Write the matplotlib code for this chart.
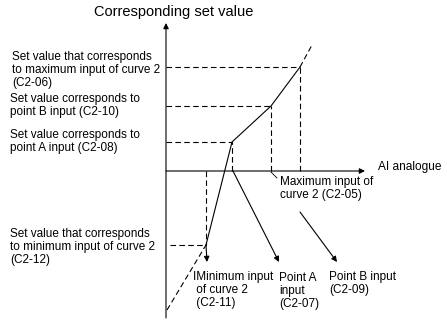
import matplotlib.pyplot as plt

plt.rcParams['font.family'] = ['Liberation Sans', 'DejaVu Sans']

# curve 2 break points: minimum input, point A, point B, maximum input
ai_inputs = [40, 66, 105, 134]
set_values = [-74, 29, 65, 104]

# dashed continuation of the curve outside the min/max inputs
low_ext_input = [1, 40]
low_ext_value = [-139, -74]
high_ext_input = [134, 146]
high_ext_value = [104, 126]

fig = plt.figure(figsize=(4.47, 3.21), dpi=100)
ax = fig.add_axes([0, 0, 1, 1])
ax.set_xlim(-166, 281)
ax.set_ylim(-150, 171)
ax.axis('off')

arrow = dict(arrowstyle='-|>', color='black', lw=0.8, mutation_scale=8,
             shrinkA=0, shrinkB=0)
dash = dict(color='black', lw=0.8, ls=(0, (5, 3)))

# axes with arrow heads
ax.annotate('', xy=(0, 148), xytext=(0, -147), arrowprops=arrow)
ax.annotate('', xy=(199, 0), xytext=(0, 0), arrowprops=arrow)

# the curve itself
ax.plot(ai_inputs, set_values, color='black', lw=0.8)
ax.plot(low_ext_input, low_ext_value, **dash)
ax.plot(high_ext_input, high_ext_value, **dash)

# guide lines from each break point to the axes
for i, (x, y) in enumerate(zip(ai_inputs, set_values)):
    x0 = 4 if i == 0 else 0
    ax.plot([x0, x], [y, y], **dash)
    ax.plot([x, x], [0, y], **dash)

# pointers to the input labels
ax.annotate('', xy=(ai_inputs[0] + 1, -91), xytext=(ai_inputs[0], set_values[0]), arrowprops=arrow)
ax.annotate('', xy=(113, -91), xytext=(ai_inputs[1] + 1, 0), arrowprops=arrow)
ax.annotate('', xy=(171, -91), xytext=(134, -41), arrowprops=arrow)
ax.plot([ai_inputs[2], ai_inputs[2] + 6], [-1, -7], color='black', lw=0.6)

ax.text(8, 159, 'Corresponding set value', fontsize=10.5, ha='center', va='center')
ax.text(212, 4, 'AI analogue', fontsize=8.6, ha='left', va='center')

fs = 8.5
ls = 1.12
ax.text(-154, 120, 'Set value that corresponds\nto maximum input of curve 2\n(C2-06)',
        fontsize=fs, va='top', linespacing=ls)
ax.text(-156, 78, 'Set value corresponds to\npoint B input (C2-10)', fontsize=fs, va='top', linespacing=ls)
ax.text(-156, 42, 'Set value corresponds to\npoint A input (C2-08)', fontsize=fs, va='top', linespacing=ls)
ax.text(-156, -57, 'Set value that corresponds\nto minimum input of curve 2\n(C2-12)',
        fontsize=fs, va='top', linespacing=ls)
ax.text(114, -5, 'Maximum input of\ncurve 2 (C2-05)', fontsize=fs, va='top', linespacing=ls)
ax.text(27, -100, 'IMinimum input\n of curve 2\n (C2-11)', fontsize=fs, va='top', linespacing=ls)
ax.text(113, -101, 'Point A\ninput\n(C2-07)', fontsize=fs, va='top', linespacing=ls)
ax.text(163, -100, 'Point B input\n(C2-09)', fontsize=fs, va='top', linespacing=ls)

fig.savefig('out.png', dpi=100)
